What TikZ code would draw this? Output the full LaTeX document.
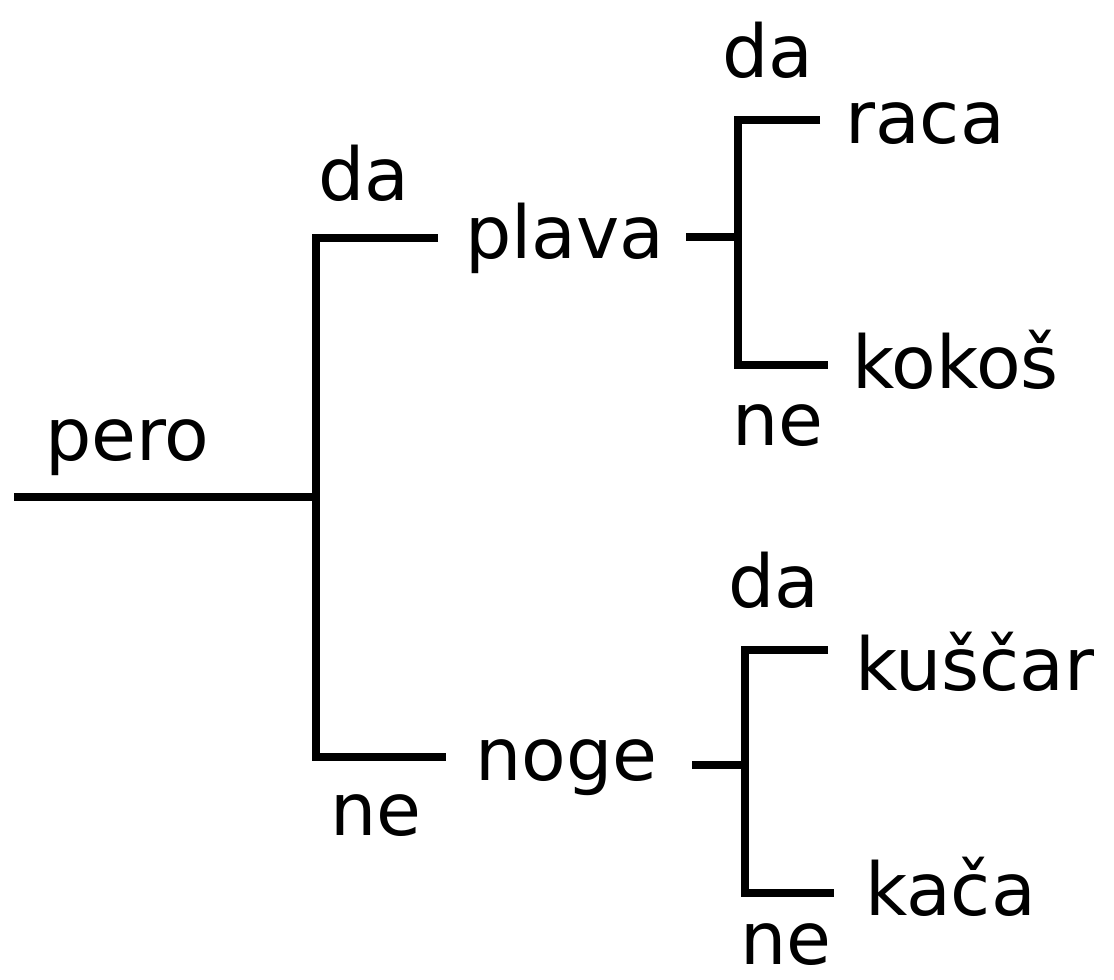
\documentclass[tikz,border=0pt]{standalone}
\usepackage{fontspec}
\setmainfont{DejaVu Sans}
\begin{document}
\begin{tikzpicture}[x=1pt,y=-1pt,
  edge/.style={line width=7.5pt,line cap=butt},
  lbl/.style={font=\fontsize{73}{80}\selectfont,anchor=base west,inner sep=0pt}]
\useasboundingbox (0,0) rectangle (1114,980);
% words
\node[lbl] (pero) at (45,460) {pero};
\node[lbl] (da1) at (318,200) {da};
\node[lbl] (ne1) at (330,835) {ne};
\node[lbl] (plava) at (465,258) {plava};
\node[lbl] (noge) at (475,780) {noge};
\node[lbl] (da2) at (722,77) {da};
\node[lbl] (raca) at (845,143) {raca};
\node[lbl] (kokos) at (852,388) {kokoš};
\node[lbl] (ne2) at (732,445) {ne};
\node[lbl] (da3) at (728,607) {da};
\node[lbl] (kuscar) at (855,690) {kuščar};
\node[lbl] (kaca) at (865,915) {kača};
\node[lbl] (ne3) at (740,964) {ne};
% junction coordinates
\coordinate (r0) at (14,497);
\coordinate (j1) at (316,497);
\coordinate (j1t) at (316,238);
\coordinate (j1b) at (316,757);
\coordinate (e1t) at (438,238);
\coordinate (e1b) at (446,757);
\coordinate (s2) at (686,237);
\coordinate (j2) at (738,237);
\coordinate (j2t) at (738,120);
\coordinate (j2b) at (738,365);
\coordinate (e2t) at (820,120);
\coordinate (e2b) at (828,365);
\coordinate (s3) at (692,765);
\coordinate (j3) at (745,765);
\coordinate (j3t) at (745,650);
\coordinate (j3b) at (745,893);
\coordinate (e3t) at (828,650);
\coordinate (e3b) at (834,893);
% connectors
\draw[edge] (r0) -- (j1);
\draw[edge,line join=miter] (e1t) -- (j1t) -- (j1b) -- (e1b);
\draw[edge] (s2) -- (j2);
\draw[edge,line join=miter] (e2t) -- (j2t) -- (j2b) -- (e2b);
\draw[edge] (s3) -- (j3);
\draw[edge,line join=miter] (e3t) -- (j3t) -- (j3b) -- (e3b);
\end{tikzpicture}
\end{document}
